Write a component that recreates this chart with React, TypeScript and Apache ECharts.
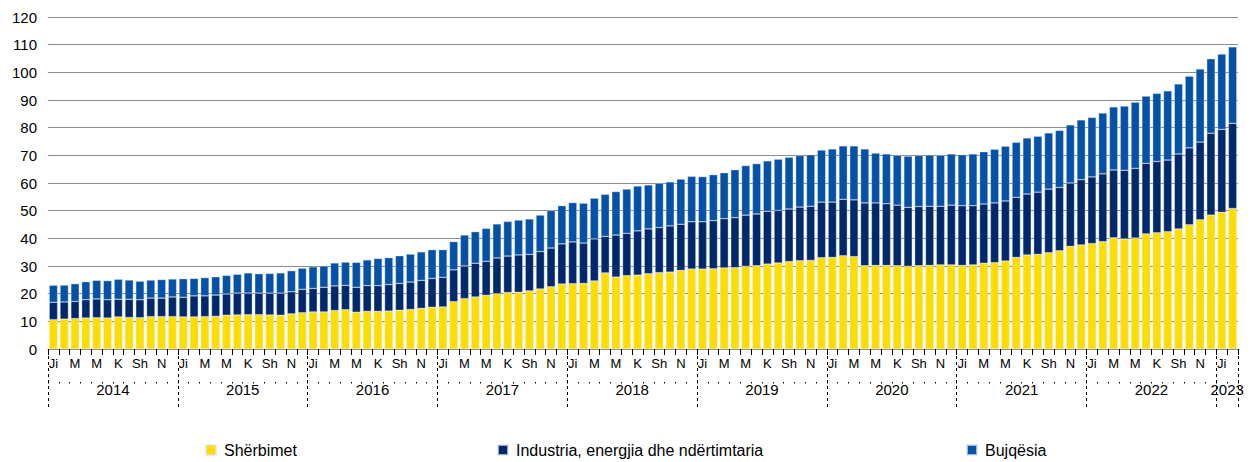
import React, { useEffect, useRef } from "react";
import * as echarts from "echarts";

const years = ["2014", "2015", "2016", "2017", "2018", "2019", "2020", "2021", "2022", "2023"];
const monthAbbr = ["Ji", "Sh", "M", "P", "M", "Q", "K", "G", "Sh", "T", "N", "Dh"];
const monthCount = 110; // Jan 2014 – Feb 2023

const seriesNames = ["Shërbimet", "Industria, energjia dhe ndërtimtaria", "Bujqësia"];

const sherbimet = [
  10.6, 10.8, 11.0, 11.2, 11.3, 11.2, 11.6, 11.4, 11.3, 11.7, 11.7, 11.7,
  11.6, 11.6, 11.7, 11.8, 12.2, 12.3, 12.4, 12.4, 12.3, 12.2, 12.7, 13.1,
  13.4, 13.4, 13.9, 14.2, 13.3, 13.6, 13.6, 13.7, 14.0, 14.3, 14.7, 15.1,
  15.2, 17.1, 18.2, 18.8, 19.4, 20.0, 20.4, 20.5, 21.0, 21.7, 22.5, 23.5,
  23.6, 23.7, 24.6, 27.5, 26.0, 26.5, 26.7, 27.2, 27.6, 27.8, 28.4, 28.9,
  28.9, 29.0, 29.3, 29.4, 29.9, 30.1, 30.7, 31.1, 31.6, 31.9, 32.0, 33.0,
  33.1, 33.7, 33.4, 30.1, 30.2, 30.2, 30.1, 29.9, 30.1, 30.2, 30.4, 30.4,
  30.2, 30.4, 31.0, 31.2, 31.8, 33.1, 34.0, 34.2, 34.8, 35.5, 37.1, 37.6,
  38.1, 38.8, 40.2, 39.8, 40.1, 41.6, 42.0, 42.4, 43.4, 44.9, 46.7, 48.4,
  49.4, 50.8,
];

const industria = [
  6.3, 6.2, 6.2, 6.6, 6.8, 6.6, 6.4, 6.6, 6.5, 6.7, 6.7, 7.1,
  7.1, 7.6, 7.5, 7.7, 7.7, 7.9, 7.8, 7.8, 7.9, 8.0, 8.0, 8.5,
  8.5, 8.9, 8.9, 8.8, 9.0, 9.3, 9.3, 9.6, 9.7, 9.9, 10.1, 10.4,
  10.7, 11.5, 11.8, 12.2, 12.3, 12.9, 13.2, 13.5, 13.2, 13.5, 14.0, 14.5,
  15.1, 14.6, 15.2, 13.2, 15.2, 15.3, 16.0, 16.2, 16.3, 16.7, 16.7, 17.1,
  17.1, 17.4, 17.8, 18.1, 18.5, 18.7, 19.1, 19.0, 19.0, 19.4, 19.6, 20.1,
  20.0, 20.4, 20.5, 22.7, 22.6, 22.3, 21.9, 21.3, 21.4, 21.4, 21.2, 21.6,
  21.6, 21.4, 21.4, 21.6, 21.7, 21.7, 22.0, 22.5, 23.0, 22.9, 22.9, 23.6,
  24.1, 24.5, 24.5, 24.8, 25.2, 25.5, 25.8, 25.9, 27.1, 27.8, 28.1, 29.6,
  30.0, 30.8,
];

const bujqesia = [
  6.1, 6.1, 6.4, 6.5, 6.7, 6.9, 7.2, 6.9, 6.7, 6.5, 6.7, 6.5,
  6.7, 6.3, 6.6, 6.6, 6.7, 6.8, 7.3, 7.0, 7.1, 7.3, 7.6, 7.6,
  7.8, 7.7, 8.3, 8.4, 9.0, 9.3, 9.8, 9.7, 10.0, 10.1, 10.3, 10.4,
  10.0, 10.2, 11.2, 11.4, 11.9, 12.3, 12.5, 12.6, 12.8, 13.2, 13.5, 13.8,
  14.2, 14.4, 14.7, 15.2, 15.7, 16.0, 16.2, 15.9, 16.0, 15.9, 16.3, 16.4,
  16.3, 16.6, 16.6, 17.3, 17.9, 18.2, 18.2, 18.5, 18.7, 18.6, 18.6, 18.8,
  19.2, 19.3, 19.5, 19.5, 18.0, 18.0, 18.0, 18.5, 18.4, 18.5, 18.4, 18.5,
  18.4, 18.7, 18.9, 19.4, 19.8, 19.9, 20.3, 20.2, 20.3, 20.6, 21.0, 21.6,
  21.5, 22.0, 22.8, 23.2, 23.9, 24.3, 24.6, 25.0, 25.3, 25.9, 26.4, 26.9,
  27.2, 27.6,
];

const colors = ["#FFDD00", "#00296B", "#0451A6"];
const FONT = "'Liberation Sans', Arial, sans-serif";

export default function App() {
  const ref = useRef<HTMLDivElement>(null);

  useEffect(() => {
    if (!ref.current) return;
    const chart = echarts.init(ref.current, undefined, { renderer: "svg" });

    const monthCats = Array.from({ length: monthCount }, (_, i) => monthAbbr[i % 12]);
    // boundary points (monthCount + 1) for year separators and labels
    const boundaryCats = Array.from({ length: monthCount + 1 }, (_, i) => {
      const yi = Math.floor(i / 12);
      const start = yi * 12;
      const end = Math.min(start + 12, monthCount);
      if (end - start <= 0) return "";
      const mid = start + (end - start) / 2;
      return i === mid ? years[yi] : "";
    });

    const dataSets = [sherbimet, industria, bujqesia];

    chart.setOption({
      animation: false,
      textStyle: { fontFamily: FONT },
      grid: { left: 48, right: 18, top: 17, bottom: 113, containLabel: false },
      legend: seriesNames.map((n, k) => ({
        data: [n],
        left: [205, 497, 966][k],
        top: 442,
        padding: 0,
        itemWidth: 10,
        itemHeight: 10,
        icon: "rect",
        selectedMode: false,
        textStyle: { fontSize: 16, color: "#000", fontFamily: FONT, padding: [0, 0, 0, 3] },
      })),
      xAxis: [
        {
          type: "category",
          data: monthCats,
          axisLine: { show: true, lineStyle: { color: "#8c8c8c", width: 1 } },
          axisTick: { show: true, length: 6, interval: 0, lineStyle: { color: "#000" } },
          axisLabel: { interval: 1, fontSize: 13, color: "#000", margin: 8, fontFamily: FONT },
        },
        {
          type: "category",
          data: boundaryCats,
          boundaryGap: false,
          position: "bottom",
          offset: 7,
          axisLine: { show: false },
          axisTick: {
            show: true,
            length: 54,
            interval: (i: number) => i % 12 === 0 || i === monthCount,
            lineStyle: { color: "#000", type: [3, 3], width: 1 },
          },
          axisLabel: { interval: 0, fontSize: 15, color: "#000", margin: 26, fontFamily: FONT },
        },
        {
          type: "category",
          data: boundaryCats,
          boundaryGap: false,
          position: "bottom",
          offset: 33,
          axisLine: { show: false },
          axisTick: { show: true, length: 1.5, interval: 0, lineStyle: { color: "#000" } },
          axisLabel: { show: false },
        },
      ],
      yAxis: {
        type: "value",
        min: 0,
        max: 120,
        interval: 10,
        axisLine: { show: false },
        axisTick: { show: false },
        axisLabel: { fontSize: 15, color: "#000", margin: 11, fontFamily: FONT },
        splitLine: { lineStyle: { color: "#8c8c8c", width: 1 } },
      },
      series: seriesNames.map((n, k) => ({
        name: n,
        type: "bar",
        stack: "total",
        xAxisIndex: 0,
        data: dataSets[k],
        barCategoryGap: "23%",
        itemStyle: { color: colors[k], borderColor: "rgba(220,228,240,0.7)", borderWidth: 0.5 },
        emphasis: { disabled: true },
      })),
    });

    return () => chart.dispose();
  }, []);

  return (
    <div
      ref={ref}
      style={{ position: "fixed", left: 0, top: 0, width: 1256, height: 462, background: "#fff" }}
    />
  );
}
